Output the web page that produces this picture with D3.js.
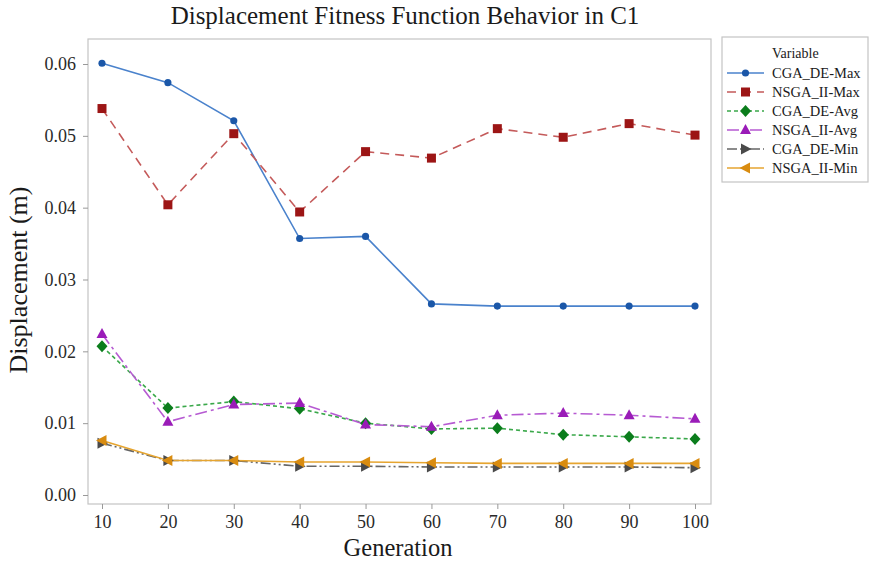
<!DOCTYPE html>
<html>
<head>
<meta charset="utf-8">
<script src="https://cdn.jsdelivr.net/npm/d3@7"></script>
<style>
  html, body { margin: 0; padding: 0; background: #fff; }
  svg { display: block; font-family: "Liberation Serif", "DejaVu Serif", serif; }
</style>
</head>
<body>
<svg id="chart" width="871" height="564"></svg>
<script>
// Generations sampled along the x axis
const generations = [10, 20, 30, 40, 50, 60, 70, 80, 90, 100];

// Displacement (m) per generation for each variable
const cgaDeMax   = [0.0601, 0.0574, 0.0521, 0.0357, 0.0360, 0.0266, 0.0263, 0.0263, 0.0263, 0.0263];
const nsgaIIMax  = [0.0538, 0.0404, 0.0503, 0.0394, 0.0478, 0.0469, 0.0510, 0.0498, 0.0517, 0.0501];
const cgaDeAvg   = [0.0207, 0.0121, 0.0130, 0.0120, 0.0100, 0.0092, 0.0093, 0.0084, 0.0081, 0.0078];
const nsgaIIAvg  = [0.0224, 0.0102, 0.0126, 0.0128, 0.0098, 0.0095, 0.0111, 0.0114, 0.0111, 0.0106];
const cgaDeMin   = [0.0072, 0.0048, 0.0048, 0.0040, 0.0040, 0.0039, 0.0039, 0.0039, 0.0039, 0.0038];
const nsgaIIMin  = [0.0076, 0.0048, 0.0048, 0.0046, 0.0046, 0.0045, 0.0044, 0.0044, 0.0044, 0.0044];

const seriesNames = ["CGA_DE-Max", "NSGA_II-Max", "CGA_DE-Avg", "NSGA_II-Avg", "CGA_DE-Min", "NSGA_II-Min"];
const seriesValues = [cgaDeMax, nsgaIIMax, cgaDeAvg, nsgaIIAvg, cgaDeMin, nsgaIIMin];

const yTicks = [0, 0.01, 0.02, 0.03, 0.04, 0.05, 0.06];
const xTicks = generations;

// Visual style per series: line colour, marker colour, dash pattern, marker shape
const styles = [
  { line: "#4a82cc", fill: "#1b57a8", dash: null,          shape: "circle" },
  { line: "#c45a5a", fill: "#9c1515", dash: "9,6",         shape: "square" },
  { line: "#3aa84a", fill: "#0b7d1c", dash: "4,3",         shape: "diamond" },
  { line: "#b65ad2", fill: "#9a1cb8", dash: "12,4,3,4",    shape: "triUp" },
  { line: "#666666", fill: "#4a4a4a", dash: "10,3,2,3,2,3", shape: "triRight" },
  { line: "#e6a530", fill: "#d98c10", dash: null,          shape: "triLeft" }
];

const svg = d3.select("#chart");
const frame = { left: 88, right: 711, top: 39, bottom: 504 };

const x = d3.scaleLinear().domain([10, 100]).range([102, 695]);
const y = d3.scaleLinear().domain([0, 0.06]).range([495, 64]);

// Plot frame
svg.append("rect")
  .attr("x", frame.left).attr("y", frame.top)
  .attr("width", frame.right - frame.left).attr("height", frame.bottom - frame.top)
  .attr("fill", "#fff").attr("stroke", "#c4c4c4").attr("stroke-width", 1.2);

// Axes
const yAxis = d3.axisLeft(y).tickValues(yTicks).tickFormat(d3.format(".2f")).tickSize(5).tickPadding(7);
const gy = svg.append("g").attr("transform", `translate(${frame.left},0)`).call(yAxis);
gy.select(".domain").remove();
gy.selectAll(".tick line").attr("stroke", "#999");
gy.selectAll(".tick text").attr("font-size", 18).attr("fill", "#2a2a2a")
  .attr("font-family", "Liberation Serif, serif");

const xAxis = d3.axisBottom(x).tickValues(xTicks).tickFormat(d3.format("d")).tickSize(5).tickPadding(6);
const gx = svg.append("g").attr("transform", `translate(0,${frame.bottom})`).call(xAxis);
gx.select(".domain").remove();
gx.selectAll(".tick line").attr("stroke", "#999");
gx.selectAll(".tick text").attr("font-size", 18).attr("fill", "#2a2a2a")
  .attr("font-family", "Liberation Serif, serif");

// Title and axis labels
svg.append("text").attr("x", 405).attr("y", 24).attr("text-anchor", "middle")
  .attr("font-size", 25).attr("fill", "#1a1a1a")
  .text("Displacement Fitness Function Behavior in C1");
svg.append("text").attr("x", 398).attr("y", 556).attr("text-anchor", "middle")
  .attr("font-size", 24.5).attr("fill", "#1a1a1a").text("Generation");
svg.append("text").attr("transform", "translate(27,280) rotate(-90)").attr("text-anchor", "middle")
  .attr("font-size", 26).attr("fill", "#1a1a1a").text("Displacement (m)");

// Marker shapes
function markerPath(shape) {
  switch (shape) {
    case "circle":   return d3.symbol(d3.symbolCircle, 40)();
    case "square":   return "M-4.5,-4.5H4.5V4.5H-4.5Z";
    case "diamond":  return "M0,-6L5.5,0L0,6L-5.5,0Z";
    case "triUp":    return "M0,-6L5.5,4L-5.5,4Z";
    case "triRight": return "M-4.5,-5.5L6,0L-4.5,5.5Z";
    case "triLeft":  return "M4.5,-5.5L-6,0L4.5,5.5Z";
  }
}

const line = d3.line().x(d => x(d[0])).y(d => y(d[1]));

// Draw lines first, then markers so markers sit on top
seriesValues.forEach((vals, i) => {
  const pts = generations.map((g, j) => [g, vals[j]]);
  svg.append("path").datum(pts)
    .attr("d", line).attr("fill", "none")
    .attr("stroke", styles[i].line).attr("stroke-width", 1.6)
    .attr("stroke-dasharray", styles[i].dash);
});
seriesValues.forEach((vals, i) => {
  const pts = generations.map((g, j) => [g, vals[j]]);
  svg.append("g").selectAll("path").data(pts).join("path")
    .attr("transform", d => `translate(${x(d[0])},${y(d[1])})`)
    .attr("d", markerPath(styles[i].shape))
    .attr("fill", styles[i].fill);
});

// Legend
const lg = svg.append("g");
lg.append("rect").attr("x", 722).attr("y", 37).attr("width", 146).attr("height", 145)
  .attr("fill", "#fff").attr("stroke", "#c4c4c4").attr("stroke-width", 1.2);
lg.append("text").attr("x", 772).attr("y", 58).attr("font-size", 14).attr("fill", "#1a1a1a").text("Variable");
seriesNames.forEach((name, i) => {
  const yy = 73 + i * 19;
  lg.append("line").attr("x1", 727).attr("x2", 764).attr("y1", yy).attr("y2", yy)
    .attr("stroke", styles[i].line).attr("stroke-width", 1.6)
    .attr("stroke-dasharray", styles[i].dash);
  lg.append("path").attr("transform", `translate(745.5,${yy})`)
    .attr("d", markerPath(styles[i].shape)).attr("fill", styles[i].fill);
  lg.append("text").attr("x", 772).attr("y", yy + 5).attr("font-size", 14.5).attr("fill", "#1a1a1a").text(name);
});
</script>
</body>
</html>
